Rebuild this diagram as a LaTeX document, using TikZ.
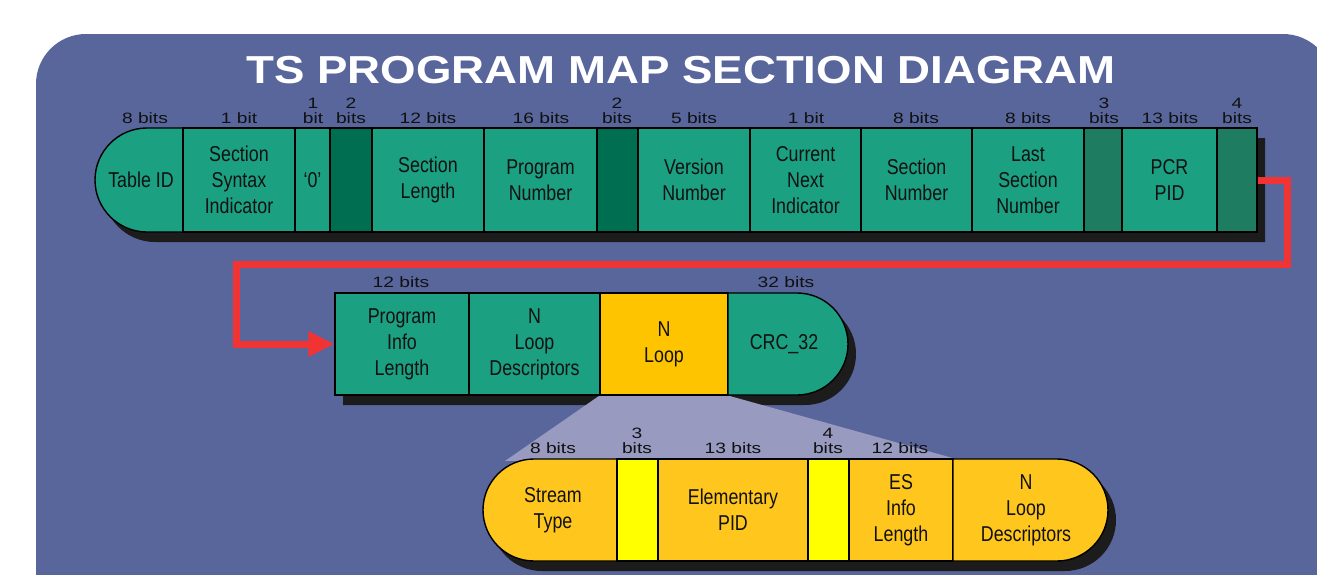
\documentclass[tikz,border=0pt]{standalone}
\usepackage{fontspec}
\setmainfont{Liberation Sans}
\newfontfamily\titlefont[FakeStretch=1.17]{Liberation Sans}
\newfontfamily\bitfont[FakeStretch=1.28]{Liberation Sans}
\newfontfamily\cellfont[FakeStretch=0.83]{Liberation Sans}
\usetikzlibrary{arrows.meta}
\definecolor{panelblue}{RGB}{88,102,156}
\definecolor{tgreen}{RGB}{27,160,130}
\definecolor{dgreenA}{RGB}{0,110,80}
\definecolor{dgreenB}{RGB}{30,124,96}
\definecolor{nyellow}{RGB}{255,196,0}
\definecolor{amber}{RGB}{255,198,30}
\definecolor{byellow}{RGB}{255,255,0}
\definecolor{lav}{RGB}{152,154,192}
\definecolor{redline}{RGB}{242,51,51}
\definecolor{shadowc}{RGB}{28,28,28}
\definecolor{inkc}{RGB}{17,17,17}
\pgfdeclarelayer{bg}
\pgfsetlayers{bg,main}
\begin{document}
\begin{tikzpicture}[x=1pt,y=1pt,
  cellbox/.style={draw=black, line width=1.4pt, inner sep=0pt, align=center,
    text=inkc, font=\cellfont\fontsize{21.5}{26}\selectfont},
  toprow/.style={cellbox, minimum height=104pt},
  lowrow/.style={cellbox, minimum height=102pt},
  captext/.style={inner sep=0pt, align=center, text=inkc,
    font=\cellfont\fontsize{21.5}{26}\selectfont},
  capshape/.style={draw=black, line width=1.4pt},
  bitlbl/.style={inner sep=0pt, anchor=south, align=center, text=inkc,
    font=\bitfont\fontsize{15}{15}\selectfont},
  shadowfill/.style={fill=shadowc},
  redarrow/.style={draw=redline, line width=7pt, line join=miter,
    -{Triangle[length=26pt,width=24pt]}}
]
\useasboundingbox (0,0) rectangle (1317,-574);
\clip (0,0) rectangle (1317,-574);

\begin{pgfonlayer}{bg}
  \fill[white] (0,0) rectangle (1317,-574);
  \fill[panelblue, rounded corners=50pt] (36,-34) rectangle (1333,-640);
  % shadows
  \begin{scope}[shift={(8,-10)}]
    \fill[shadowfill] (1257,-128) -- (147,-128) arc(90:270:52) -- (1257,-232) -- cycle;
    \fill[shadowfill] (335,-293) -- (797,-293) arc(90:-90:51) -- (335,-395) -- cycle;
    \fill[shadowfill] (534,-459) -- (1057,-459) arc(90:-90:51) -- (534,-561) arc(270:90:51) -- cycle;
  \end{scope}
\end{pgfonlayer}

% title
\node[text=white, inner sep=0pt, anchor=base,
  font=\titlefont\bfseries\fontsize{39}{39}\selectfont] (title) at (681,-83)
  {TS PROGRAM MAP SECTION DIAGRAM};

% ---------- top row ----------
\fill[tgreen] (183,-128) -- (147,-128) arc(90:270:52) -- (183,-232) -- cycle;
\draw[capshape] (183,-128) -- (147,-128) arc(90:270:52) -- (183,-232) -- cycle;
\node[captext] (tid) at (141,-180) {Table ID};
\node[toprow, fill=tgreen, minimum width=112pt] (ssi) at (239,-180) {Section\\Syntax\\Indicator};
\node[toprow, fill=tgreen, minimum width=35pt] (zero) at (312.5,-180) {‘0’};
\node[toprow, fill=dgreenA, minimum width=42pt] (r1) at (351,-180) {};
\node[toprow, fill=tgreen, minimum width=112pt] (slen) at (428,-180) {Section\\Length};
\node[toprow, fill=tgreen, minimum width=113pt] (pnum) at (540.5,-180) {Program\\Number};
\node[toprow, fill=dgreenA, minimum width=41pt] (r2) at (617.5,-180) {};
\node[toprow, fill=tgreen, minimum width=112pt] (ver) at (694,-180) {Version\\Number};
\node[toprow, fill=tgreen, minimum width=111pt] (cni) at (805.5,-180) {Current\\Next\\Indicator};
\node[toprow, fill=tgreen, minimum width=111pt] (snum) at (916.5,-180) {Section\\Number};
\node[toprow, fill=tgreen, minimum width=112pt] (lsn) at (1028,-180) {Last\\Section\\Number};
\node[toprow, fill=dgreenB, minimum width=38pt] (r3) at (1103,-180) {};
\node[toprow, fill=tgreen, minimum width=95pt] (pcr) at (1169.5,-180) {PCR\\PID};
\node[toprow, fill=dgreenB, minimum width=40pt] (r4) at (1237,-180) {};

% top bit labels
\node[bitlbl] (b01) at (145,-124) {8 bits};
\node[bitlbl] (b02) at (239,-124) {1 bit};
\node[bitlbl] (b03) at (313,-124) {1\\bit};
\node[bitlbl] (b04) at (351,-124) {2\\bits};
\node[bitlbl] (b05) at (428,-124) {12 bits};
\node[bitlbl] (b06) at (541,-124) {16 bits};
\node[bitlbl] (b07) at (617,-124) {2\\bits};
\node[bitlbl] (b08) at (694,-124) {5 bits};
\node[bitlbl] (b09) at (806,-124) {1 bit};
\node[bitlbl] (b10) at (916,-124) {8 bits};
\node[bitlbl] (b11) at (1028,-124) {8 bits};
\node[bitlbl] (b12) at (1104,-124) {3\\bits};
\node[bitlbl] (b13) at (1170,-124) {13 bits};
\node[bitlbl] (b14) at (1237,-124) {4\\bits};

% ---------- middle row ----------
\node[lowrow, fill=tgreen, minimum width=134pt] (pil) at (402,-344) {Program\\Info\\Length};
\node[lowrow, fill=tgreen, minimum width=131pt] (nld) at (534.5,-344) {N\\Loop\\Descriptors};
\node[lowrow, fill=nyellow, minimum width=128pt] (nloop) at (664,-344) {N\\Loop};
\fill[tgreen] (728,-293) -- (797,-293) arc(90:-90:51) -- (728,-395) -- cycle;
\draw[capshape] (728,-293) -- (797,-293) arc(90:-90:51) -- (728,-395) -- cycle;
\node[captext] (crc) at (784,-344) {CRC\_32};
\node[bitlbl] (m01) at (401,-288) {12 bits};
\node[bitlbl] (m02) at (786,-288) {32 bits};

% ---------- bottom row ----------
\fill[amber] (617,-459) -- (534,-459) arc(90:270:51) -- (617,-561) -- cycle;
\draw[capshape] (617,-459) -- (534,-459) arc(90:270:51) -- (617,-561) -- cycle;
\node[captext] (st) at (553,-510) {Stream\\Type};
\node[lowrow, fill=byellow, minimum width=41pt] (y1) at (637.5,-510) {};
\node[lowrow, fill=amber, minimum width=150pt] (epid) at (733,-510) {Elementary\\PID};
\node[lowrow, fill=byellow, minimum width=41pt] (y2) at (828.5,-510) {};
\node[lowrow, fill=amber, minimum width=104pt] (esil) at (901,-510) {ES\\Info\\Length};
\fill[amber] (953,-459) -- (1057,-459) arc(90:-90:51) -- (953,-561) -- cycle;
\draw[capshape] (953,-459) -- (1057,-459) arc(90:-90:51) -- (953,-561) -- cycle;
\node[captext] (nld2) at (1026,-510) {N\\Loop\\Descriptors};
\node[bitlbl] (l01) at (553,-454) {8 bits};
\node[bitlbl] (l02) at (637,-454) {3\\bits};
\node[bitlbl] (l03) at (733,-454) {13 bits};
\node[bitlbl] (l04) at (828,-454) {4\\bits};
\node[bitlbl] (l05) at (900,-454) {12 bits};

% projection of the N Loop
\coordinate (lavL) at (505,-461);
\begin{pgfonlayer}{bg}
  \fill[lav] (nloop.south west) -- (nloop.south east) -- (esil.north east) -- (lavL) -- cycle;
\end{pgfonlayer}

% red connector
\coordinate (rc1) at (1287,-180);
\coordinate (rc2) at (1287,-264);
\coordinate (rc3) at (236,-264);
\coordinate (rc4) at (236,-344);
\draw[redarrow] (r4.east) -- (rc1) -- (rc2) -- (rc3) -- (rc4) -- (pil.west);
\end{tikzpicture}
\end{document}
